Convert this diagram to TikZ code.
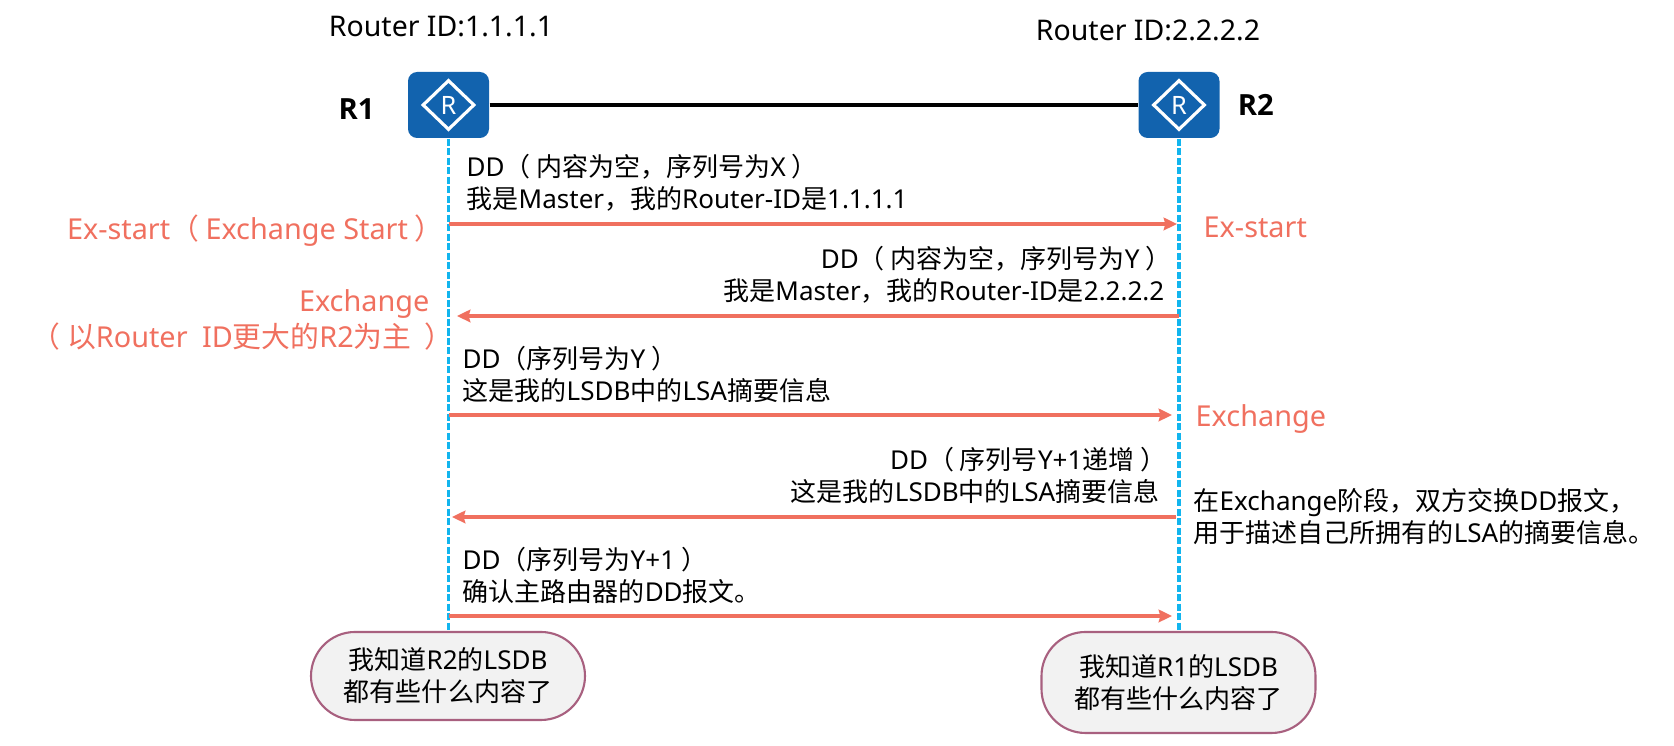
\documentclass[tikz,border=0pt]{standalone}
\usepackage{fontspec}
\setmainfont{Noto Sans}
\newfontfamily\cjk{Noto Sans CJK SC}
\newfontfamily\boldlat{Open Sans}
\newcommand{\zh}[1]{{\cjk #1}}
\usetikzlibrary{arrows.meta,positioning,shapes.geometric}
\definecolor{rblue}{HTML}{1263AE}
\definecolor{salmon}{HTML}{F0705F}
\definecolor{lifeblue}{HTML}{12B5EE}
\definecolor{bubbleedge}{HTML}{A8607F}

\begin{document}
\begin{tikzpicture}[>={Stealth[length=3.8pt,width=3.6pt,inset=0.5pt]},font=\fontsize{7.4}{9.1}\selectfont,
 router/.style={fill=rblue,rounded corners=2.6pt,minimum width=0.81cm,minimum height=0.66cm,inner sep=0pt},
 rmark/.style={draw=white,line width=0.9pt,diamond,aspect=1.05,minimum width=0.52cm,minimum height=0.5cm,inner sep=0pt,text=white,font=\fontsize{7.2}{8}\selectfont},
 title/.style={font=\fontsize{8.1}{9}\selectfont},
 rname/.style={inner sep=0pt,font=\fontsize{8.3}{9}\selectfont\boldlat\bfseries},
 msg/.style={align=left,inner sep=0pt},
 msgr/.style={align=right,inner sep=0pt},
 state/.style={text=salmon,inner sep=0pt,font=\fontsize{8.2}{9.6}\selectfont},
 life/.style={draw=lifeblue,line width=0.9pt,dash pattern=on 2pt off 0.7pt},
 flow/.style={draw=salmon,line width=0.95pt,->},
 bubble/.style={draw=bubbleedge,fill=black!5,line width=0.6pt,rounded corners=0.44cm,minimum width=2.74cm,align=center,inner sep=0pt}]
\useasboundingbox (0,0) rectangle (16.74,-7.46);
\node[router] (r1) at (4.485,-1.05) {};
\node[router] (r2) at (11.79,-1.05) {};
\node[rmark] (m1) at (r1) {R};
\node[rmark] (m2) at (r2) {R};
\node[rname,left=0.32cm of r1,yshift=-0.04cm] (n1) {R1};
\node[rname,right=0.17cm of r2] (n2) {R2};
\node[title] (t1) at (4.41,-0.27) {Router ID:1.1.1.1};
\node[title] (t2) at (11.48,-0.30) {Router ID:2.2.2.2};
\draw[line width=0.95pt] (r1) -- (r2);
% end of session
\node[bubble,minimum height=0.88cm] (b1) at (4.48,-6.76) {\zh{我知道}R2\zh{的}LSDB\\\zh{都有些什么内容了}};
\node[bubble,minimum height=1.01cm] (b2) at (11.785,-6.825) {\zh{我知道}R1\zh{的}LSDB\\\zh{都有些什么内容了}};
\draw[life] (r1) -- (r1 |- b1.north);
\draw[life] (r2) -- (r2 |- b2.north);
% arrows
\coordinate (a1s) at (4.49,-2.24);
\coordinate (a1e) at (11.77,-2.24);
\coordinate (a2s) at (11.79,-3.16);
\coordinate (a2e) at (4.57,-3.16);
\coordinate (a3s) at (4.49,-4.15);
\coordinate (a3e) at (11.72,-4.15);
\coordinate (a4s) at (11.76,-5.17);
\coordinate (a4e) at (4.52,-5.17);
\coordinate (a5s) at (4.49,-6.16);
\coordinate (a5e) at (11.72,-6.16);
\foreach \i in {1,...,5}
  \draw[flow] (a\i s) -- (a\i e);
% messages
\node[msg,anchor=south west] (d1) at (4.66,-2.12) {DD\zh{（ 内容为空，序列号为}X\zh{ ）}\\\zh{我是}Master\zh{，我的}Router-ID\zh{是}1.1.1.1};
\node[msgr,anchor=south east] (d2) at (11.65,-3.04) {DD\zh{（ 内容为空，序列号为}Y\zh{ ）}\kern-2pt\\\zh{我是}Master\zh{，我的}Router-ID\zh{是}2.2.2.2};
\node[msg,anchor=south west] (d3) at (4.62,-4.03) {DD\zh{（序列号为}Y\zh{ ）}\\\zh{这是我的}LSDB\zh{中的}LSA\zh{摘要信息}};
\node[msgr,anchor=south east] (d4) at (11.60,-5.04) {DD\zh{（ 序列号}Y+1\zh{递增 ）}\kern-2pt\\\zh{这是我的}LSDB\zh{中的}LSA\zh{摘要信息}};
\node[msg,anchor=south west] (d5) at (4.62,-6.04) {DD\zh{（序列号为}Y+1\zh{ ）}\\\zh{确认主路由器的}DD\zh{报文。}};
% states
\node[state,anchor=east] (s1) at (4.44,-2.31) {Ex-start\zh{（ }Exchange Start\zh{ ）}};
\node[state,anchor=west] (s2) at (12.03,-2.27) {Ex-start};
\node[state,anchor=east] (s3) at (4.30,-3.04) {Exchange};
\node[state,anchor=east] (s3b) at (4.545,-3.37) {\zh{（ 以}Router \kern2pt ID\zh{更大的}R2\zh{为主}\kern2pt\zh{ ）}};
\node[state,anchor=west] (s4) at (11.95,-4.19) {Exchange};
\node[msg,anchor=west] (note) at (11.93,-5.17) {\zh{在}Exchange\zh{阶段，双方交换}DD\zh{报文，}\\\zh{用于描述自己所拥有的}LSA\zh{的摘要信息。}};
\end{tikzpicture}
\end{document}
